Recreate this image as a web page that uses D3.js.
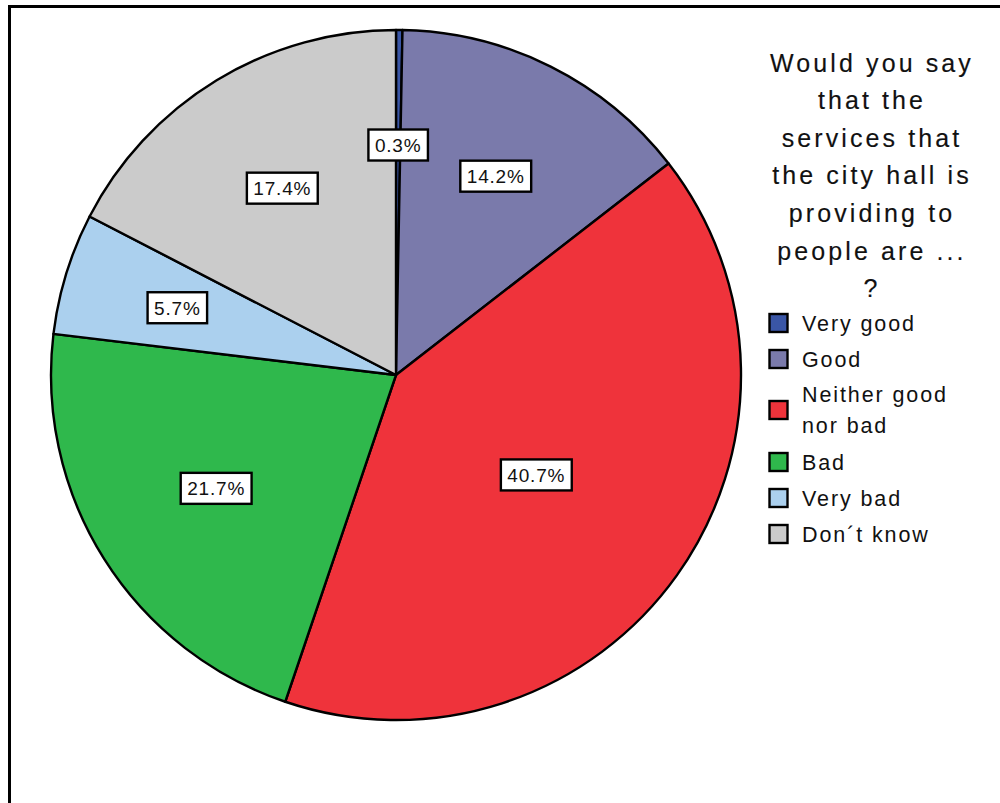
<!DOCTYPE html>
<html>
<head>
<meta charset="utf-8">
<script src="https://cdn.jsdelivr.net/npm/d3@7"></script>
<style>
  html, body { margin: 0; padding: 0; background: #fff; overflow: hidden; }
  svg { display: block; font-family: "Liberation Sans", Arial, sans-serif; }
</style>
</head>
<body>
<svg id="chart" width="1000" height="803"></svg>
<script>
const categories = ["Very good", "Good", "Neither good nor bad", "Bad", "Very bad", "Don\u00b4t know"];
const legendLines = [["Very good"], ["Good"], ["Neither good", "nor bad"], ["Bad"], ["Very bad"], ["Don\u00b4t know"]];
const values = [0.3, 14.2, 40.7, 21.7, 5.7, 17.4];
const labels = ["0.3%", "14.2%", "40.7%", "21.7%", "5.7%", "17.4%"];
const colors = ["#3a56a6", "#7a7aab", "#ef333b", "#2fb84c", "#abd0ee", "#cbcbcb"];
const titleLines = ["Would you say", "that the", "services that", "the city hall is", "providing to", "people are ...", "?"];

const svg = d3.select("#chart");

// frame
svg.append("rect")
  .attr("x", 9.5).attr("y", 6.5)
  .attr("width", 1100).attr("height", 900)
  .attr("fill", "none").attr("stroke", "#000").attr("stroke-width", 3);

const cx = 396, cy = 375, R = 345;
const data = categories.map((c, i) => ({ cat: c, value: values[i], label: labels[i], color: colors[i] }));

const pie = d3.pie().value(d => d.value).sort(null);
const arcs = pie(data);
const arc = d3.arc().innerRadius(0).outerRadius(R);

const g = svg.append("g").attr("transform", `translate(${cx},${cy})`);

g.selectAll("path.slice").data(arcs).join("path")
  .attr("class", "slice")
  .attr("d", arc)
  .attr("fill", d => d.data.color)
  .attr("stroke", "#000")
  .attr("stroke-width", 2.4)
  .attr("stroke-linejoin", "round");

// labels at sector centroids (geometric)
function centroid(d) {
  const a = (d.startAngle + d.endAngle) / 2;
  const half = (d.endAngle - d.startAngle) / 2;
  const dist = half < 1e-6 ? 2 * R / 3 : (2 * R * Math.sin(half)) / (3 * half);
  return [dist * Math.sin(a), -dist * Math.cos(a)];
}

const lab = g.selectAll("g.lab").data(arcs).join("g")
  .attr("class", "lab")
  .attr("transform", d => { const c = centroid(d); return `translate(${c[0]},${c[1]})`; });

lab.each(function(d) {
  const sel = d3.select(this);
  const t = sel.append("text")
    .attr("text-anchor", "middle")
    .attr("dy", "0.36em")
    .attr("font-size", 19)
    .attr("letter-spacing", 0.8)
    .attr("fill", "#111")
    .text(d.data.label);
  const bb = t.node().getBBox();
  const w = bb.width + 13, h = 31;
  sel.insert("rect", "text")
    .attr("x", -w / 2).attr("y", -h / 2)
    .attr("width", w).attr("height", h)
    .attr("fill", "#fff").attr("stroke", "#000").attr("stroke-width", 2.4);
});

// title
const title = svg.append("text")
  .attr("text-anchor", "middle")
  .attr("font-size", 25)
  .attr("letter-spacing", 3.1)
  .attr("fill", "#111")
  .attr("stroke", "#111").attr("stroke-width", 0.15);
titleLines.forEach((l, i) => {
  title.append("tspan").attr("x", 872).attr("y", 71.5 + i * 37.6).text(l);
});

// legend
const legendCenters = [323, 359, 410, 462, 498, 534];
const leg = svg.append("g");
data.forEach((d, i) => {
  const yc = legendCenters[i];
  leg.append("rect")
    .attr("x", 769.5).attr("y", yc - 9)
    .attr("width", 18).attr("height", 18)
    .attr("fill", d.color).attr("stroke", "#000").attr("stroke-width", 2.4);
  const lines = legendLines[i];
  const t = leg.append("text")
    .attr("font-size", 21.5)
    .attr("letter-spacing", 1.9)
    .attr("fill", "#111");
  lines.forEach((l, j) => {
    t.append("tspan")
      .attr("x", 802)
      .attr("y", yc + 7.5 - (lines.length - 1) * 15.3 + j * 30.6)
      .text(l);
  });
});
</script>
</body>
</html>
